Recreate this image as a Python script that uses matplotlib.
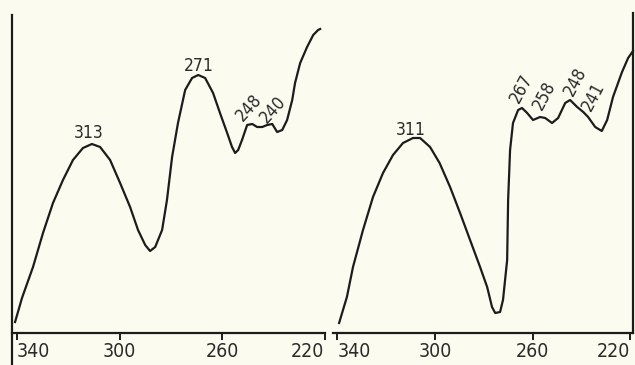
"""
Two UV absorption traces side by side, redrawn from a scanned chart.
Wavelength (nm) runs right to left, absorbance in arbitrary units.
"""
import matplotlib
matplotlib.use("Agg")
import matplotlib.pyplot as plt

# --- Data ---
# left trace
left_nm = [340.8, 338.1, 333.8, 329.9, 326.0, 322.1, 318.2, 314.3, 310.8, 307.6,
           303.7, 299.8, 295.9, 292.8, 290.0, 288.1, 286.1, 283.4, 281.5, 279.5,
           277.2, 274.4, 271.7, 269.3, 266.6, 263.5, 260.8, 258.0, 256.1, 254.9,
           253.7, 252.2, 250.2, 248.2, 246.3, 244.3, 242.4, 240.4, 238.5, 236.5,
           234.6, 232.6, 231.5, 229.5, 226.8, 224.4, 222.5, 221.7]
left_abs = [0.11, 0.35, 0.66, 1.00, 1.30, 1.53, 1.73, 1.85, 1.89, 1.86,
            1.73, 1.50, 1.26, 1.03, 0.88, 0.82, 0.86, 1.03, 1.33, 1.76,
            2.10, 2.43, 2.55, 2.58, 2.55, 2.40, 2.20, 2.00, 1.86, 1.80,
            1.83, 1.93, 2.08, 2.09, 2.06, 2.06, 2.08, 2.09, 2.01, 2.03,
            2.13, 2.33, 2.50, 2.70, 2.86, 2.98, 3.03, 3.04]

# right trace
right_nm = [339.3, 336.1, 333.6, 329.5, 325.4, 321.3, 317.2, 313.1, 309.0, 306.1,
            302.0, 298.1, 293.8, 289.7, 285.6, 281.5, 278.6, 276.6, 275.3, 273.3,
            272.1, 270.4, 270.0, 269.2, 268.0, 265.9, 264.3, 262.2, 259.8, 256.9,
            254.8, 252.0, 249.5, 246.6, 244.6, 241.7, 239.2, 237.2, 234.3, 231.6,
            229.4, 227.0, 223.3, 220.8, 218.8]
right_abs = [0.10, 0.36, 0.66, 1.03, 1.36, 1.60, 1.78, 1.90, 1.95, 1.95,
             1.86, 1.70, 1.46, 1.20, 0.93, 0.66, 0.46, 0.26, 0.20, 0.21,
             0.33, 0.73, 1.33, 1.83, 2.10, 2.23, 2.25, 2.20, 2.13, 2.16,
             2.15, 2.10, 2.15, 2.30, 2.33, 2.26, 2.21, 2.16, 2.06, 2.02,
             2.13, 2.36, 2.61, 2.75, 2.82]

tick_nm = [340, 300, 260, 220]

left_peaks = ["313", "271", "248", "240"]
right_peaks = ["311", "267", "258", "248", "241"]

# --- Layout / style ---
PAPER = "#fbfbef"
INK = "#1c1c1c"
W, H = 635, 365
FONT = dict(family=["DejaVu Sans"], stretch="condensed")

# label anchor (nm, abs) and rotation for each peak annotation
left_label_pos = [(311.9, 2.00, 0), (269.0, 2.67, 0), (249.4, 2.25, 48), (240.0, 2.23, 48)]
right_label_pos = [(309.8, 2.03, 0), (264.7, 2.45, 62), (255.2, 2.37, 62),
                   (242.5, 2.51, 62), (235.1, 2.36, 62)]

fig = plt.figure(figsize=(W / 100, H / 100), dpi=100, facecolor=PAPER)
ax_l = fig.add_axes([12 / W, 32 / H, 312.5 / W, 333 / H])
ax_r = fig.add_axes([333 / W, 32 / H, 300 / W, 333 / H])


def style_panel(ax, xlim):
    ax.set_facecolor("none")
    ax.set_xlim(*xlim)
    ax.set_ylim(0, 3.33)
    for side in ("top", "right", "left"):
        ax.spines[side].set_visible(False)
    ax.spines["bottom"].set_linewidth(1.6)
    ax.spines["bottom"].set_color(INK)
    ax.set_yticks([])
    ax.set_xticks(tick_nm, labels=[str(t) for t in tick_nm])
    ax.tick_params(axis="x", direction="out", length=5, width=1.4, color=INK,
                   pad=1.5, labelsize=14, labelcolor="#2a2a2a")
    labels = ax.get_xticklabels()
    for lab in labels:
        lab.set_fontstretch("condensed")
    labels[0].set_ha("left")
    labels[-1].set_ha("right")


style_panel(ax_l, (342, 220))
style_panel(ax_r, (341.8, 218.8))

# --- Traces ---
ax_l.plot(left_nm, left_abs, color=INK, lw=1.6, clip_on=False)
ax_r.plot(right_nm, right_abs, color=INK, lw=1.6, clip_on=False)

# frame lines of the chart paper
ax_l.plot([0, 0], [-0.1, 0.955], transform=ax_l.transAxes, color=INK, lw=1.6,
          clip_on=False)
ax_r.plot([1, 1], [0, 0.96], transform=ax_r.transAxes, color=INK, lw=1.6,
          clip_on=False)

# --- Peak labels ---
for text, (x, y, rot) in zip(left_peaks, left_label_pos):
    ax_l.text(x, y, text, rotation=rot, ha="center", va="center", fontsize=12.5,
              color="#2a2a2a", rotation_mode="anchor", **FONT)
for text, (x, y, rot) in zip(right_peaks, right_label_pos):
    ax_r.text(x, y, text, rotation=rot, ha="center", va="center", fontsize=12.5,
              color="#2a2a2a", rotation_mode="anchor", **FONT)

fig.savefig("out.png", dpi=100, facecolor=PAPER)
